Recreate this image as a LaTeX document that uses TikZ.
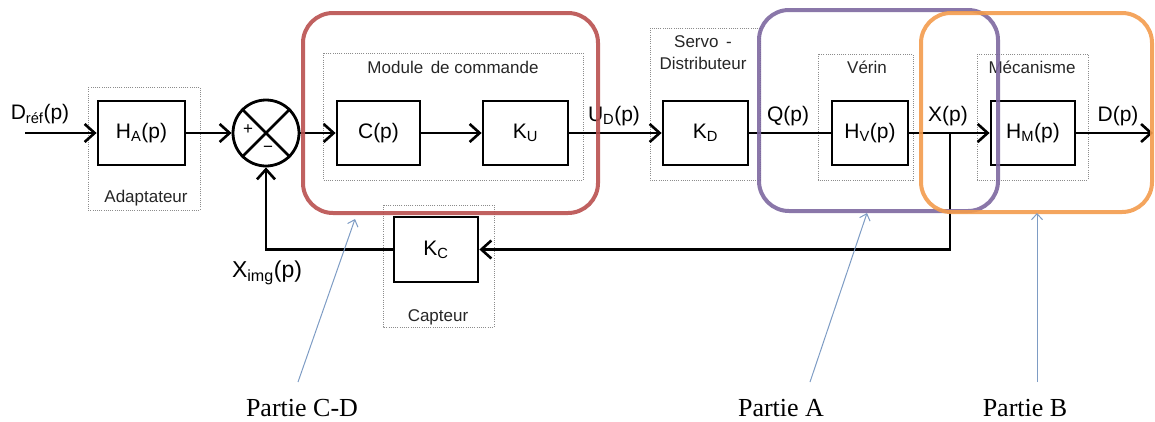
\documentclass[tikz,border=0pt]{standalone}
\usepackage{fontspec}
\setmainfont{Liberation Sans}
\newfontfamily\partfont{Liberation Serif}
\usetikzlibrary{arrows.meta}
\definecolor{cdred}{HTML}{B9504F}
\definecolor{apurple}{HTML}{7D68A0}
\definecolor{borange}{HTML}{F39B4C}
\definecolor{pblue}{HTML}{7E9CC4}
\definecolor{dotgray}{HTML}{8C8C8C}
\begin{document}
\begin{tikzpicture}[x=1pt,y=-1pt,
  blk/.style={draw, line width=2.8pt, minimum width=#1, minimum height=64pt, inner sep=0pt,
    font=\fontsize{21}{24}\selectfont},
  blk/.default=84pt,
  sig/.style={line width=2.8pt, -{Straight Barb[length=10pt,width=18pt,line width=2.6pt]}},
  wire/.style={line width=2.8pt},
  lbl/.style={inner sep=0pt, font=\fontsize{21}{24}\selectfont},
  grplbl/.style={inner sep=0pt, font=\fontsize{17}{20}\selectfont, text=black!85},
  grp/.style={draw=dotgray, line width=0.8pt, dash pattern=on 1pt off 1.2pt},
  part/.style={line width=4pt, rounded corners=30pt},
  pointer/.style={draw=pblue, line width=1pt, -{Straight Barb[length=6pt,width=11pt,line width=1pt]}},
  partlbl/.style={inner sep=0pt, font=\partfont\fontsize{26}{28}\selectfont}
]
\useasboundingbox (0,0) rectangle (1155,421);

% dotted group boxes
\draw[grp] (88,87) rectangle (200,210);
\draw[grp] (323,53) rectangle (583,180);
\draw[grp] (650,28) rectangle (760,180);
\draw[grp] (818,54) rectangle (913,180);
\draw[grp] (977,54) rectangle (1088,180);
\draw[grp] (383,205) rectangle (494,327);

\node[grplbl] (tAd) at (146,198) {Adaptateur};
\node[grplbl] (tMod) at (453,67) {Module\, de commande};
\node[grplbl] (tServo) at (703,42) {Servo\, -};
\node[grplbl] (tDist) at (703,63) {Distributeur};
\node[grplbl] (tVer) at (867,67) {Vérin};
\node[grplbl] (tMec) at (1032,67) {Mécanisme};
\node[grplbl] (tCap) at (438,317) {Capteur};

% blocks
\node[blk=87pt] (HA) at (141.5,133) {H\textsubscript{A}(p)};
\node[draw, circle, line width=2.8pt, minimum size=66pt, inner sep=0pt] (sum) at (266,133) {};
\draw[line width=2.8pt] (sum.north west) -- (sum.south east) (sum.north east) -- (sum.south west);
\node[inner sep=0pt, font=\fontsize{17}{18}\selectfont] (plus) at (248,130) {+};
\node[inner sep=0pt, font=\fontsize{17}{18}\selectfont] (minus) at (268,149) {\textminus};
\node[blk=83pt] (C) at (378.5,133) {C(p)};
\node[blk=85pt] (KU) at (525.5,133) {K\textsubscript{U}};
\node[blk=85pt] (KD) at (705.5,133) {K\textsubscript{D}};
\node[blk=76pt] (HV) at (870,133) {H\textsubscript{V}(p)};
\node[blk=84pt] (HM) at (1033,133) {H\textsubscript{M}(p)};
\node[blk=84pt, minimum height=65pt] (KC) at (436,249.5) {K\textsubscript{C}};

% signals
\coordinate (in) at (25,133);
\coordinate (out) at (1153,133);
\coordinate (br) at (950,133);
\draw[sig] (in) -- (HA.west);
\draw[sig] (HA.east) -- (sum.west);
\draw[sig] (sum.east) -- (C.west);
\draw[sig] (C.east) -- (KU.west);
\draw[sig] (KU.east) -- (KD.west);
\draw[wire] (KD.east) -- (HV.west);
\draw[sig] (HV.east) -- (HM.west);
\draw[sig] (HM.east) -- (out);
\draw[sig] (br) |- (KC.east);
\draw[sig] (KC.west) -| (sum.south);

% signal labels
\node[lbl] (lDref) at (40,114) {D\textsubscript{réf}(p)};
\node[lbl] (lUD) at (614,116) {U\textsubscript{D}(p)};
\node[lbl] (lQ) at (788,116) {Q(p)};
\node[lbl] (lX) at (948,116) {X(p)};
\node[lbl] (lD) at (1118,116) {D(p)};
\node[lbl, font=\fontsize{23}{26}\selectfont] (lXimg) at (267,273) {X\textsubscript{img}(p)};

% coloured parts
\draw[part, draw=cdred, opacity=0.9] (303,13) rectangle (598,213);
\draw[part, draw=apurple, opacity=0.9] (759,10) rectangle (998,211);
\draw[part, draw=borange, opacity=0.9] (921,13) rectangle (1152,212);

% pointers
\node[partlbl] (pCD) at (302,408) {Partie C-D};
\node[partlbl] (pA) at (781,408) {Partie A};
\node[partlbl] (pB) at (1025,408) {Partie B};
\coordinate (tCD) at (355,219);
\coordinate (tA) at (867,213);
\coordinate (tB) at (1037,213);
\coordinate (bCD) at (298,382);
\coordinate (bA) at (810,382);
\coordinate (bB) at (1037,382);
\draw[pointer] (bCD) -- (tCD);
\draw[pointer] (bA) -- (tA);
\draw[pointer] (bB) -- (tB);
\end{tikzpicture}
\end{document}
